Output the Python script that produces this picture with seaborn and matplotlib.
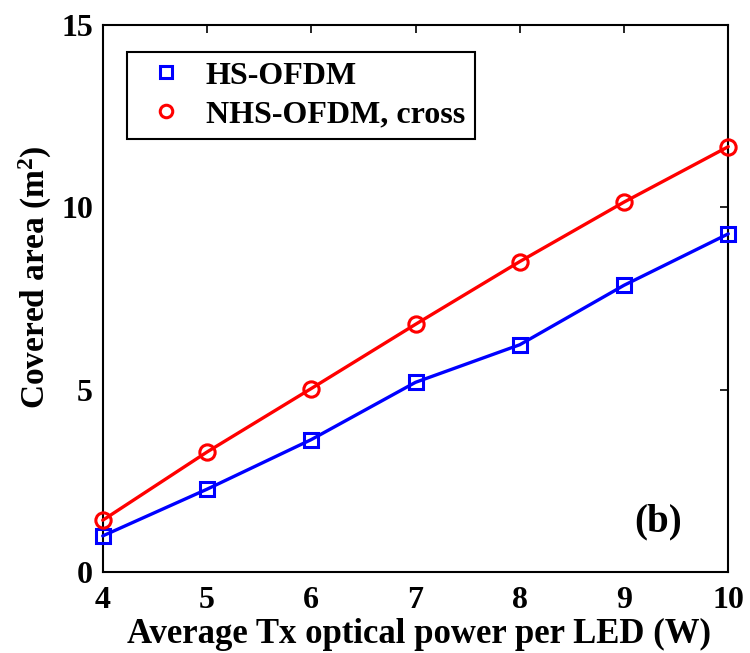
import numpy as np
import pandas as pd
import matplotlib
matplotlib.use("Agg")
import matplotlib.pyplot as plt
import seaborn as sns
from matplotlib.lines import Line2D

power = [4, 5, 6, 7, 8, 9, 10]
hs_ofdm = [0.99, 2.27, 3.63, 5.20, 6.23, 7.86, 9.27]
nhs_ofdm = [1.42, 3.29, 5.03, 6.79, 8.51, 10.14, 11.66]
series_names = ["HS-OFDM", "NHS-OFDM, cross"]
x_ticks = [4, 5, 6, 7, 8, 9, 10]
y_ticks = [0, 5, 10, 15]

sns.set_style("white")
plt.rcParams['font.family'] = ['Liberation Serif', 'DejaVu Serif']
plt.rcParams['font.weight'] = 'bold'
plt.rcParams['text.color'] = 'black'
plt.rcParams['axes.labelcolor'] = 'black'
plt.rcParams['xtick.color'] = 'black'
plt.rcParams['ytick.color'] = 'black'
plt.rcParams['mathtext.fontset'] = 'custom'
plt.rcParams['mathtext.rm'] = 'Liberation Serif:bold'
plt.rcParams['mathtext.it'] = 'Liberation Serif:bold'
plt.rcParams['mathtext.bf'] = 'Liberation Serif:bold'

df_hs = pd.DataFrame({"power": power, "area": hs_ofdm})
df_nhs = pd.DataFrame({"power": power, "area": nhs_ofdm})

fig = plt.figure(figsize=(7.5, 6.53), dpi=100)
ax = fig.add_axes([0.137, 0.124, 0.834, 0.838])

blue = "#0000ff"
red = "#ff0000"
sns.lineplot(data=df_hs, x="power", y="area", color=blue, marker="s",
             markersize=10, markerfacecolor="none", markeredgecolor=blue,
             markeredgewidth=2.2, linewidth=2.4, ax=ax, clip_on=False, zorder=3)
sns.lineplot(data=df_nhs, x="power", y="area", color=red, marker="o",
             markersize=11, markerfacecolor="none", markeredgecolor=red,
             markeredgewidth=2.2, linewidth=2.4, ax=ax, clip_on=False, zorder=3)

ax.set_xlim(4, 10)
ax.set_ylim(0, 15)
ax.set_xticks(x_ticks)
ax.set_yticks(y_ticks)
ax.tick_params(direction="in", length=6, width=1.2, top=True, right=True,
               labelsize=23, pad=7)
ax.tick_params(axis="x", pad=10)
for lbl in ax.get_xticklabels() + ax.get_yticklabels():
    lbl.set_fontweight("bold")
for s in ax.spines.values():
    s.set_color("black")
    s.set_linewidth(1.5)

ax.set_xlabel("Average Tx optical power per LED (W)", fontsize=25,
              fontweight="bold")
ax.xaxis.set_label_coords(0.506, -0.084)
ax.set_ylabel("Covered area (m$^2$)", fontsize=24, fontweight="bold")
ax.yaxis.set_label_coords(-0.108, 0.539)
ax.yaxis.label.set_va("center")

handles = [
    Line2D([], [], linestyle="none", marker="s", markersize=9,
           markerfacecolor="none", markeredgecolor=blue, markeredgewidth=2.2),
    Line2D([], [], linestyle="none", marker="o", markersize=9,
           markerfacecolor="none", markeredgecolor=red, markeredgewidth=2.2),
]
leg = ax.legend(handles, series_names, loc="upper left",
                bbox_to_anchor=(0.038, 0.951), fancybox=False, framealpha=1,
                edgecolor="black", prop={"size": 23, "weight": "bold"},
                handletextpad=0.28, borderpad=0.3, labelspacing=0.3,
                handlelength=1.9, borderaxespad=0)
leg.get_frame().set_linewidth(1.5)

ax.text(9.33, 1.37, "(b)", fontsize=28, fontweight="bold", ha="center", va="center")

fig.savefig("out.png", dpi=100)
